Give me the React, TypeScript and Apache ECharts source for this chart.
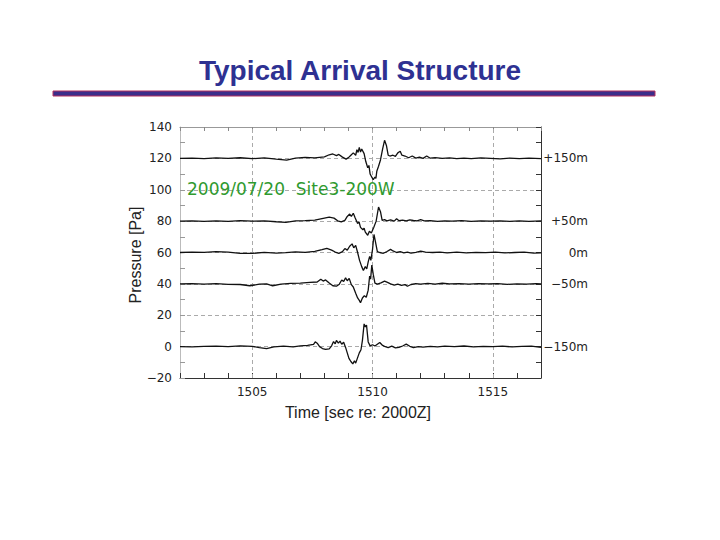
import React, { useEffect, useRef } from "react";
import * as echarts from "echarts";

const TITLE = "Typical Arrival Structure";
const ANNOTATION = "2009/07/20  Site3-200W";
const X_NAME = "Time [sec re: 2000Z]";
const Y_NAME = "Pressure [Pa]";
const X_MIN = 1502;
const X_MAX = 1517;
const Y_MIN = -20;
const Y_MAX = 140;
const X_GRID_LINES = [1505, 1510, 1515];
const RIGHT_LABELS: Record<number, string> = {
  120: "+150m",
  80: "+50m",
  60: "0m",
  40: "\u221250m",
  0: "\u2212150m",
};

// [time (s), pressure (Pa)] — each depth trace is offset to its own baseline
const traceP150: number[][] = [
  [1502.0, 120.0], [1502.5, 120.2], [1503.0, 119.9], [1503.5, 120.3], [1504.0, 120.0],
  [1504.5, 120.4], [1505.0, 119.8], [1505.5, 120.3], [1506.0, 119.5], [1506.43, 118.9],
  [1506.8, 120.2], [1507.2, 120.6], [1507.6, 120.3], [1508.0, 121.0], [1508.2, 122.3],
  [1508.35, 122.8], [1508.5, 121.8], [1508.6, 122.5], [1508.75, 120.8], [1508.9, 119.5],
  [1509.0, 120.5], [1509.1, 122.0], [1509.2, 123.5], [1509.3, 122.0], [1509.35, 125.5],
  [1509.4, 123.8], [1509.45, 127.0], [1509.5, 124.0], [1509.55, 126.0], [1509.65, 123.0],
  [1509.72, 118.0], [1509.8, 114.0], [1509.85, 115.5], [1509.9, 110.0], [1509.97, 108.0],
  [1510.03, 106.5], [1510.1, 108.0], [1510.14, 107.2], [1510.18, 112.0], [1510.25, 115.0],
  [1510.33, 119.0], [1510.42, 126.0], [1510.5, 131.5], [1510.58, 128.0], [1510.65, 122.0],
  [1510.72, 121.5], [1510.85, 122.0], [1510.95, 121.3], [1511.05, 123.5], [1511.15, 124.5],
  [1511.22, 122.0], [1511.35, 121.5], [1511.5, 120.4], [1511.65, 121.5], [1511.8, 120.2],
  [1511.95, 120.8], [1512.1, 120.0], [1512.25, 121.5], [1512.4, 120.1], [1512.6, 120.5],
  [1512.9, 120.0], [1513.2, 120.3], [1513.5, 119.8], [1513.8, 120.2], [1514.1, 119.9],
  [1514.5, 120.3], [1514.9, 120.0], [1515.3, 119.7], [1515.7, 120.2], [1516.1, 119.9],
  [1516.5, 120.1], [1517.0, 119.8],
];

const traceP50: number[][] = [
  [1502.0, 80.0], [1502.5, 80.2], [1503.0, 79.9], [1503.5, 80.1], [1504.0, 79.8],
  [1504.5, 80.3], [1505.0, 80.0], [1505.5, 80.2], [1506.0, 79.6], [1506.4, 79.2],
  [1506.8, 80.1], [1507.2, 80.3], [1507.6, 80.6], [1507.95, 81.8], [1508.2, 82.5],
  [1508.4, 81.9], [1508.55, 80.2], [1508.7, 79.5], [1508.85, 80.5], [1508.95, 83.0],
  [1509.05, 84.5], [1509.12, 83.0], [1509.2, 85.0], [1509.28, 82.0], [1509.38, 78.5],
  [1509.44, 79.5], [1509.5, 76.0], [1509.6, 74.5], [1509.65, 75.5], [1509.7, 73.0],
  [1509.8, 71.0], [1509.87, 73.5], [1509.95, 72.5], [1510.05, 76.0], [1510.15, 80.0],
  [1510.25, 89.0], [1510.33, 86.0], [1510.4, 80.5], [1510.5, 80.9], [1510.6, 80.2],
  [1510.75, 80.8], [1510.9, 80.0], [1511.0, 81.5], [1511.1, 80.3], [1511.25, 80.7],
  [1511.4, 80.2], [1511.55, 80.8], [1511.7, 80.4], [1511.85, 80.1], [1512.0, 80.9],
  [1512.15, 80.2], [1512.4, 80.3], [1512.7, 79.9], [1513.0, 80.2], [1513.3, 80.0],
  [1513.7, 80.3], [1514.1, 79.9], [1514.5, 80.1], [1514.9, 80.0], [1515.3, 80.2],
  [1515.7, 79.8], [1516.1, 80.1], [1516.5, 79.9], [1517.0, 80.2],
];

const trace0: number[][] = [
  [1502.0, 60.0], [1502.5, 60.3], [1503.0, 60.1], [1503.5, 60.6], [1504.0, 60.2],
  [1504.5, 59.5], [1505.0, 59.4], [1505.5, 60.1], [1506.0, 59.6], [1506.4, 59.9],
  [1506.8, 60.4], [1507.2, 60.1], [1507.6, 60.7], [1507.9, 61.8], [1508.1, 62.6],
  [1508.3, 61.5], [1508.45, 60.3], [1508.6, 59.5], [1508.75, 60.5], [1508.85, 62.5],
  [1508.95, 61.5], [1509.05, 64.0], [1509.15, 65.5], [1509.22, 63.0], [1509.3, 64.5],
  [1509.38, 60.0], [1509.46, 55.0], [1509.55, 51.0], [1509.62, 48.5], [1509.7, 51.0],
  [1509.76, 49.5], [1509.82, 54.0], [1509.88, 57.5], [1509.93, 55.0], [1510.0, 62.0],
  [1510.06, 71.5], [1510.12, 67.0], [1510.2, 60.5], [1510.3, 60.0], [1510.45, 59.5],
  [1510.6, 60.6], [1510.75, 62.0], [1510.85, 61.0], [1511.0, 60.0], [1511.15, 60.5],
  [1511.3, 59.7], [1511.45, 60.3], [1511.6, 59.6], [1511.8, 60.1], [1512.0, 60.9],
  [1512.2, 60.2], [1512.5, 60.0], [1512.8, 60.3], [1513.1, 59.8], [1513.5, 60.2],
  [1513.9, 59.8], [1514.3, 60.1], [1514.7, 59.9], [1515.1, 60.2], [1515.5, 59.7],
  [1515.9, 60.0], [1516.3, 60.2], [1516.7, 59.6], [1517.0, 59.8],
];

const traceM50: number[][] = [
  [1502.0, 40.0], [1502.5, 40.1], [1503.0, 39.9], [1503.5, 40.2], [1504.0, 39.7],
  [1504.5, 39.6], [1504.9, 38.8], [1505.3, 39.8], [1505.6, 40.0], [1505.85, 38.8],
  [1506.2, 39.8], [1506.6, 40.3], [1507.0, 40.5], [1507.4, 41.0], [1507.7, 41.2],
  [1507.85, 43.0], [1507.95, 41.8], [1508.05, 42.5], [1508.2, 40.5], [1508.35, 38.8],
  [1508.5, 38.5], [1508.62, 39.8], [1508.72, 42.5], [1508.8, 41.5], [1508.88, 43.8],
  [1508.95, 42.0], [1509.03, 43.5], [1509.12, 39.5], [1509.2, 38.0], [1509.3, 34.0],
  [1509.38, 31.0], [1509.45, 29.5], [1509.5, 28.0], [1509.58, 31.0], [1509.66, 32.5],
  [1509.74, 31.5], [1509.82, 36.0], [1509.88, 45.0], [1509.92, 43.0], [1509.97, 52.0],
  [1510.03, 46.0], [1510.1, 40.5], [1510.2, 39.8], [1510.35, 40.6], [1510.5, 41.8],
  [1510.62, 41.0], [1510.75, 40.0], [1510.9, 39.2], [1511.05, 39.8], [1511.2, 39.0],
  [1511.35, 39.5], [1511.45, 38.5], [1511.6, 39.6], [1511.8, 40.2], [1512.0, 39.8],
  [1512.3, 40.3], [1512.6, 39.9], [1512.9, 40.4], [1513.2, 40.0], [1513.6, 40.2],
  [1514.0, 39.8], [1514.4, 40.1], [1514.8, 40.0], [1515.2, 40.2], [1515.6, 39.7],
  [1516.0, 40.0], [1516.4, 39.8], [1516.8, 40.2], [1517.0, 40.0],
];

const traceM150: number[][] = [
  [1502.0, 0.0], [1502.5, -0.2], [1503.0, 0.1], [1503.5, 0.3], [1504.0, 0.0],
  [1504.5, 0.5], [1505.0, 0.2], [1505.3, -0.6], [1505.6, -1.3], [1505.9, -0.2],
  [1506.3, 0.3], [1506.7, -0.1], [1507.0, 0.5], [1507.3, 0.8], [1507.55, 1.5],
  [1507.62, 3.0], [1507.7, 2.2], [1507.8, 0.0], [1507.92, -1.2], [1508.05, -1.8],
  [1508.2, -1.5], [1508.3, 0.5], [1508.38, 3.2], [1508.45, 1.8], [1508.5, 4.0],
  [1508.58, 2.2], [1508.65, 3.5], [1508.72, 1.5], [1508.8, 2.8], [1508.88, -0.5],
  [1508.95, -4.0], [1509.02, -7.5], [1509.1, -9.5], [1509.18, -11.0], [1509.25, -9.0],
  [1509.3, -10.5], [1509.38, -7.0], [1509.45, -4.0], [1509.52, -2.0], [1509.58, 4.0],
  [1509.65, 14.5], [1509.7, 12.5], [1509.75, 13.8], [1509.82, 3.0], [1509.9, 0.5],
  [1510.0, 1.2], [1510.1, 0.4], [1510.2, 1.5], [1510.3, 2.6], [1510.4, 1.0],
  [1510.5, 0.2], [1510.65, -0.6], [1510.8, 0.3], [1510.95, -0.8], [1511.1, -0.5],
  [1511.25, 0.4], [1511.4, 1.6], [1511.55, 0.2], [1511.7, -0.6], [1511.9, 0.0],
  [1512.1, -0.3], [1512.4, 0.2], [1512.7, -0.1], [1513.0, 0.3], [1513.4, 0.0],
  [1513.8, 0.4], [1514.2, -0.1], [1514.6, 0.2], [1515.0, 0.0], [1515.4, 0.3],
  [1515.8, -0.2], [1516.2, 0.1], [1516.6, 0.3], [1517.0, -0.5],
];

const TRACES = [traceP150, traceP50, trace0, traceM50, traceM150];

export default function App() {
  const ref = useRef<HTMLDivElement>(null);
  useEffect(() => {
    if (!ref.current) return;
    const chart = echarts.init(ref.current, undefined, { renderer: "svg" });
    const tickFont = { fontFamily: "DejaVu Sans", fontSize: 12, color: "#222" };
    const option: any = {
      animation: false,
      backgroundColor: "#ffffff",
      grid: { left: 180, top: 127, width: 361, height: 251, containLabel: false },
      xAxis: [
        {
          type: "value",
          min: X_MIN,
          max: X_MAX,
          interval: 1,
          position: "bottom",
          axisLine: { onZero: false, lineStyle: { color: "#333", width: 1 } },
          axisTick: { inside: true, length: 5, lineStyle: { color: "#333" } },
          axisLabel: {
            ...tickFont,
            margin: 8,
            formatter: (v: number) => (v % 5 === 0 ? String(v) : ""),
          },
          splitLine: { show: false },
        },
        {
          type: "value",
          min: X_MIN,
          max: X_MAX,
          interval: 1,
          position: "top",
          axisLine: { show: true, onZero: false, lineStyle: { color: "#999", width: 1.2 } },
          axisTick: { inside: true, length: 4, lineStyle: { color: "#888" } },
          axisLabel: { show: false },
          splitLine: { show: false },
        },
      ],
      yAxis: [
        {
          type: "value",
          min: Y_MIN,
          max: Y_MAX,
          interval: 20,
          position: "left",
          axisLine: { show: true, onZero: false, lineStyle: { color: "#bbb", width: 1 } },
          axisTick: { show: true, inside: true, length: 5, lineStyle: { color: "#999" } },
          minorTick: { show: true, splitNumber: 2, length: 5, lineStyle: { color: "#999" } },
          axisLabel: {
            ...tickFont,
            margin: 8,
            formatter: (v: number) => (v < 0 ? "\u2212" + Math.abs(v) : String(v)),
          },
          splitLine: { show: true, lineStyle: { color: "#aaa", type: [4, 3], width: 1 } },
        },
        {
          type: "value",
          min: Y_MIN,
          max: Y_MAX,
          interval: 10,
          position: "right",
          axisLine: { show: true, onZero: false, lineStyle: { color: "#333", width: 1 } },
          axisTick: { show: true, inside: true, length: 5, lineStyle: { color: "#333" } },
          axisLabel: {
            ...tickFont,
            margin: 47,
            align: "right",
            formatter: (v: number) => RIGHT_LABELS[v] ?? "",
          },
          splitLine: { show: false },
        },
      ],
      graphic: [
        {
          type: "text",
          x: 360,
          y: 70,
          style: {
            text: TITLE,
            font: "bold 28px 'Liberation Sans', Arial, sans-serif",
            fill: "#2e3192",
            textAlign: "center",
            textVerticalAlign: "middle",
          },
        },
        {
          type: "rect",
          shape: { x: 53, y: 91, width: 602, height: 5 },
          style: { fill: "#3b2d8b", stroke: "#b5305f", lineWidth: 1 },
        },
        {
          type: "text",
          x: 187,
          y: 189,
          z: 100,
          style: {
            text: ANNOTATION,
            font: "17px 'DejaVu Sans', sans-serif",
            fill: "#2f9a2f",
            textVerticalAlign: "middle",
          },
        },
        {
          type: "text",
          x: 135,
          y: 255,
          rotation: Math.PI / 2,
          style: {
            text: Y_NAME,
            font: "16px 'Liberation Sans', Arial, sans-serif",
            fill: "#222",
            textAlign: "center",
            textVerticalAlign: "middle",
          },
        },
        {
          type: "text",
          x: 358,
          y: 412,
          style: {
            text: X_NAME,
            font: "16px 'Liberation Sans', Arial, sans-serif",
            fill: "#222",
            textAlign: "center",
            textVerticalAlign: "middle",
          },
        },
      ],
      series: [
        {
          type: "line",
          data: [],
          silent: true,
          markLine: {
            silent: true,
            symbol: "none",
            label: { show: false },
            lineStyle: { color: "#aaa", type: [4, 3], width: 1 },
            data: X_GRID_LINES.map((x) => ({ xAxis: x })),
          },
        },
        ...TRACES.map((d) => ({
          type: "line",
          data: d,
          showSymbol: false,
          symbol: "none",
          silent: true,
          lineStyle: { color: "#111", width: 1.3 },
          z: 5,
        })),
      ],
    };
    chart.setOption(option);
    return () => chart.dispose();
  }, []);
  return (
    <div
      ref={ref}
      style={{ position: "fixed", left: 0, top: 0, width: 720, height: 540, background: "#fff" }}
    />
  );
}
